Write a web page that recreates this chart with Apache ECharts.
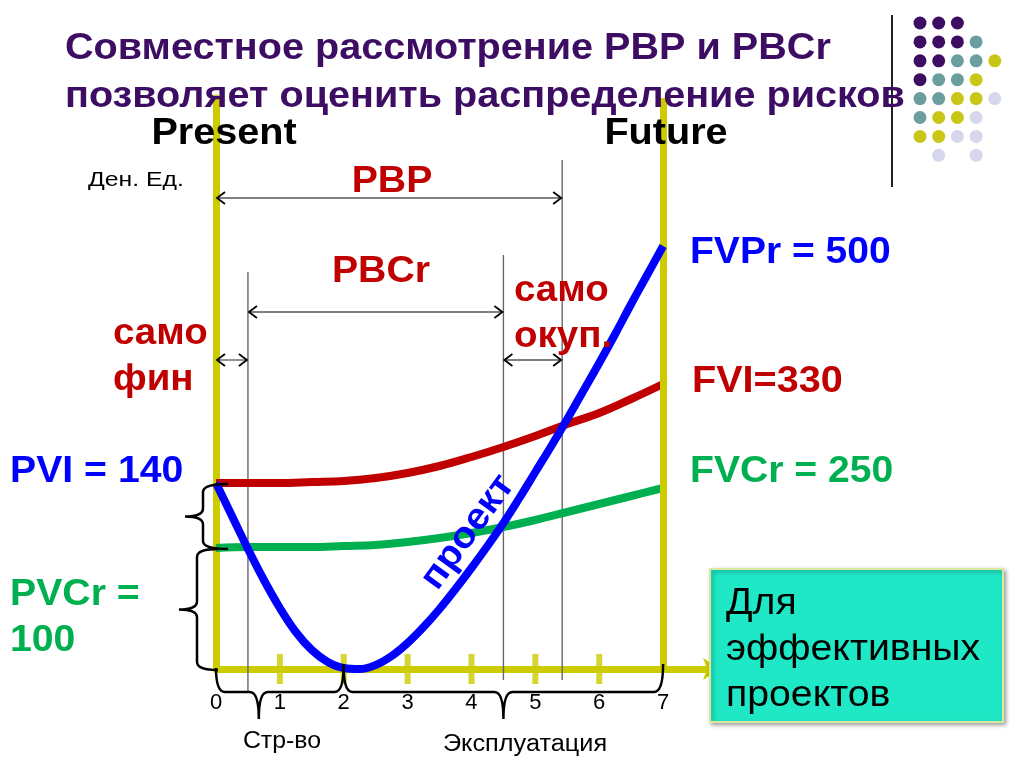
<!DOCTYPE html>
<html><head><meta charset="utf-8">
<script src="https://cdn.jsdelivr.net/npm/echarts@6/dist/echarts.min.js"></script>
<style>html,body{margin:0;padding:0;background:#fff}#c{width:1024px;height:768px}</style>
</head><body><div id="c"></div>
<script>
// ---- data (x: years, y: monetary units on an un-scaled sketch axis) ----
const years          = [0, 0.5, 1, 1.5, 2, 2.5, 3, 3.5, 4, 4.5, 5, 5.5, 6, 6.5, 7];
const fviValues      = [186, 186, 186, 187, 188, 191, 196, 203, 212, 222, 233, 245, 256, 270, 285];
const fvcrValues     = [121, 122, 122, 122, 123, 124, 127, 131, 136, 142, 149, 157, 165, 173, 181];
const projectYears   = [0, 0.25, 0.5, 0.75, 1, 1.25, 1.5, 1.75, 2, 2.25, 2.5, 2.75, 3, 3.25, 3.5, 3.75, 4, 4.25, 4.5, 4.75, 5, 5.25, 5.5, 5.75, 6, 6.25, 6.5, 6.75, 7];
const projectValues  = [186, 153, 120, 89, 61, 37, 19, 7, 1, 0, 4, 13, 26, 42, 60, 80, 101, 123, 146, 171, 197, 223, 250, 278, 306, 335, 365, 394, 423];
const tickValues     = [0, 1, 2, 3, 4, 5, 6, 7];
const tickLabels     = ['0', '1', '2', '3', '4', '5', '6', '7'];
// key moments (years)
const selfFinEnd = 0.5, pbcrEnd = 4.5, pbpEnd = 5.42, horizon = 7;
// period spans [from, to, level]
const spans = [[0, pbpEnd, 471], [selfFinEnd, pbcrEnd, 357], [0, selfFinEnd, 309], [pbcrEnd, pbpEnd, 309]];
// guide verticals [x, top, bottom]
const guides = [[selfFinEnd, 397, -24], [pbcrEnd, 414, -11], [pbpEnd, 509, -11]];
// brace ranges
const vBraces = [[186, 121], [121, 0]];          // PVI-PVCr, PVCr
const hBraces = [[0, 2, 0.67], [2, 7, 4.5]];     // construction, operation (from, to, tip)

const YEL = '#cccc00', RED = '#c00000', GRN = '#00b050', BLU = '#0000ff', PUR = '#3c0d63';
const FF = '"Liberation Sans", Arial, sans-serif';

const chart = echarts.init(document.getElementById('c'), null, {renderer: 'canvas'});

const pairs = (xs, ys) => xs.map((x, i) => [x, ys[i]]);

const dotRows = ['PPP', 'PPPT', 'PPTTY', 'PTTY', 'TTYYL', 'TYYL', 'YYLL', '.L.L'];
const dotCol = {P: PUR, T: '#6b9e9f', Y: '#c9c617', L: '#d7d7ec'};
const dots = [];
dotRows.forEach((row, r) => row.split('').forEach((ch, c) => {
  if (dotCol[ch]) dots.push({type: 'circle', shape: {cx: 920 + c * 18.7, cy: 23 + r * 18.9, r: 6.5}, style: {fill: dotCol[ch]}});
}));

function txt(x, y, text, size, color, bold, align, sx, extra) {
  return Object.assign({type: 'text', x: x, y: y, z: 10, scaleX: sx || 1, originX: 0, originY: 0,
    style: {text: text, fill: color,
    font: (bold ? 'bold ' : '') + size + 'px ' + FF, textAlign: align || 'left', textVerticalAlign: 'middle',
    lineHeight: Math.round(size * 1.25)}}, extra || {});
}

const option = {
  animation: false,
  backgroundColor: '#fff',
  grid: {left: 216, right: 313, top: 98, bottom: 99},
  xAxis: {
    type: 'value', min: 0, max: 7.75,
    splitLine: {show: false},
    axisTick: {show: false},
    axisLine: {lineStyle: {color: YEL, width: 7}, symbol: ['none', 'arrow'], symbolSize: [17, 16], symbolOffset: [0, 8]},
    axisLabel: {customValues: tickValues, formatter: (v) => tickLabels[tickValues.indexOf(v)] || '',
      fontFamily: FF, fontSize: 22, color: '#000', margin: 23}
  },
  yAxis: {
    type: 'value', min: 0, max: 571,
    splitLine: {show: false}, axisTick: {show: false}, axisLabel: {show: false},
    axisLine: {show: true, lineStyle: {color: YEL, width: 7}}
  },
  series: [
    {type: 'line', name: 'FVCr', data: pairs(years, fvcrValues), smooth: 0.4, showSymbol: false, z: 3,
     lineStyle: {color: GRN, width: 8}, itemStyle: {color: GRN},
     markLine: {silent: true, symbol: ['none', 'none'], label: {show: false},
       lineStyle: {color: YEL, width: 7, type: 'solid'}, data: [{xAxis: horizon}]}},
    {type: 'line', name: 'FVI', data: pairs(years, fviValues), smooth: 0.4, showSymbol: false, z: 4,
     lineStyle: {color: RED, width: 8}, itemStyle: {color: RED}},
    {type: 'line', name: 'project', data: pairs(projectYears, projectValues), smooth: 0.4, showSymbol: false, z: 5,
     lineStyle: {color: BLU, width: 8}, itemStyle: {color: BLU}},
    {type: 'scatter', name: 'ticks', data: tickValues.slice(1, -1).map(v => [v, 0]), symbol: 'rect',
     symbolSize: [6, 30], itemStyle: {color: YEL}, z: 2, silent: true},
    {type: 'custom', name: 'guides', z: 1, silent: true, clip: false, data: guides,
     renderItem: (p, api) => {
       const a = api.coord([api.value(0), api.value(1)]), b = api.coord([api.value(0), api.value(2)]);
       return {type: 'line', shape: {x1: a[0], y1: a[1], x2: b[0], y2: b[1]}, style: {stroke: '#666', lineWidth: 1.4}};
     }},
    {type: 'custom', name: 'spans', z: 6, silent: true, clip: false, data: spans,
     renderItem: (p, api) => {
       const a = api.coord([api.value(0), api.value(2)]), b = api.coord([api.value(1), api.value(2)]);
       const y = a[1], h = 6, w = 9;
       return {type: 'group', children: [
         {type: 'line', shape: {x1: a[0] + 2, y1: y, x2: b[0] - 2, y2: y}, style: {stroke: '#555', lineWidth: 1.3}},
         {type: 'polyline', shape: {points: [[a[0] + w, y - h], [a[0] + 1, y], [a[0] + w, y + h]]}, style: {stroke: '#000', lineWidth: 1.8, fill: null}},
         {type: 'polyline', shape: {points: [[b[0] - w, y - h], [b[0] - 1, y], [b[0] - w, y + h]]}, style: {stroke: '#000', lineWidth: 1.8, fill: null}}
       ]};
     }},
    {type: 'custom', name: 'vbraces', z: 6, silent: true, clip: false, data: vBraces,
     renderItem: (p, api) => {
       const i = p.dataIndex;
       const t = api.coord([0, api.value(0)]), b = api.coord([0, api.value(1)]);
       const sx = t[0] - (i === 0 ? 13 : 19), tx = sx - 18, hx = t[0] + (i === 0 ? 12 : 2);
       const y0 = t[1] + 1, y1 = b[1] + 1, ym = (y0 + y1) / 2, r = 8;
       const d = `M${hx},${y0} Q${sx},${y0} ${sx},${y0 + r} L${sx},${ym - r} Q${sx},${ym} ${tx},${ym} Q${sx},${ym} ${sx},${ym + r} L${sx},${y1 - r} Q${sx},${y1} ${hx},${y1}`;
       return {type: 'path', shape: {pathData: d}, style: {stroke: '#000', lineWidth: 2.5, fill: null}};
     }},
    {type: 'custom', name: 'hbraces', z: 6, silent: true, clip: false, data: hBraces,
     renderItem: (p, api) => {
       const l = api.coord([api.value(0), 0]), rr = api.coord([api.value(1), 0]), tp = api.coord([api.value(2), 0]);
       const yt = l[1] - 1, ys = l[1] + 23, yk = l[1] + 50, r = 9, xl = l[0], xr = rr[0], xt = tp[0];
       const d = `M${xl},${yt} Q${xl},${ys} ${xl + r},${ys} L${xt - r},${ys} Q${xt},${ys} ${xt},${yk} Q${xt},${ys} ${xt + r},${ys} L${xr - r},${ys} Q${xr},${ys} ${xr},${yt - 4}`;
       return {type: 'path', shape: {pathData: d}, style: {stroke: '#000', lineWidth: 2.5, fill: null}};
     }}
  ],
  graphic: [
    {type: 'line', shape: {x1: 892, y1: 15, x2: 892, y2: 187}, style: {stroke: '#222', lineWidth: 2}},
    ...dots,
    txt(65, 73, 'Совместное рассмотрение PBP и PBCr\nпозволяет оценить распределение рисков', 36, PUR, true, 'left', 1.1, {z: 12, style: {
      text: 'Совместное рассмотрение PBP и PBCr\nпозволяет оценить распределение рисков', fill: PUR,
      font: 'bold 36px ' + FF, textAlign: 'left', textVerticalAlign: 'middle', lineHeight: 48}}),
    txt(224, 134, 'Present', 37, '#000', true, 'center', 1.07),
    txt(666, 134, 'Future', 37, '#000', true, 'center', 1.07),
    txt(136, 180, 'Ден. Ед.', 21, '#000', false, 'center', 1.18),
    txt(392, 182, 'PBP', 37, RED, true, 'center', 1.06),
    txt(381, 272, 'PBCr', 37, RED, true, 'center', 1.06),
    txt(113, 357, 'само\nфин', 37, RED, true, 'left', 1.04),
    txt(514, 314, 'само\nокуп.', 37, RED, true, 'left', 1.04),
    txt(10, 472, 'PVI = 140', 37, BLU, true, 'left', 1.06),
    txt(10, 618, 'PVCr =\n100', 37, GRN, true, 'left', 1.06),
    txt(690, 253, 'FVPr = 500', 37, BLU, true, 'left', 1.055),
    txt(692, 382, 'FVI=330', 37, RED, true, 'left', 1.07),
    txt(690, 472, 'FVCr = 250', 37, GRN, true, 'left', 1.057),
    txt(468, 532, 'проект', 37, BLU, true, 'center', 1.06, {rotation: 0.94}),
    txt(282, 742, 'Стр-во', 23, '#000', false, 'center', 1.08),
    txt(525, 745, 'Эксплуатация', 23, '#000', false, 'center', 1.1),
    {type: 'rect', z: 9, shape: {x: 710, y: 569, width: 293, height: 153},
     style: {fill: '#1fe8c6', stroke: '#d8e8a0', lineWidth: 2, shadowBlur: 4, shadowColor: 'rgba(0,0,0,0.35)', shadowOffsetX: 2, shadowOffsetY: 2}},
    txt(726, 650, 'Для\nэффективных\nпроектов', 37, '#000', false, 'left', 1.06, {z: 11})
  ]
};
chart.setOption(option);
</script>
</body></html>
